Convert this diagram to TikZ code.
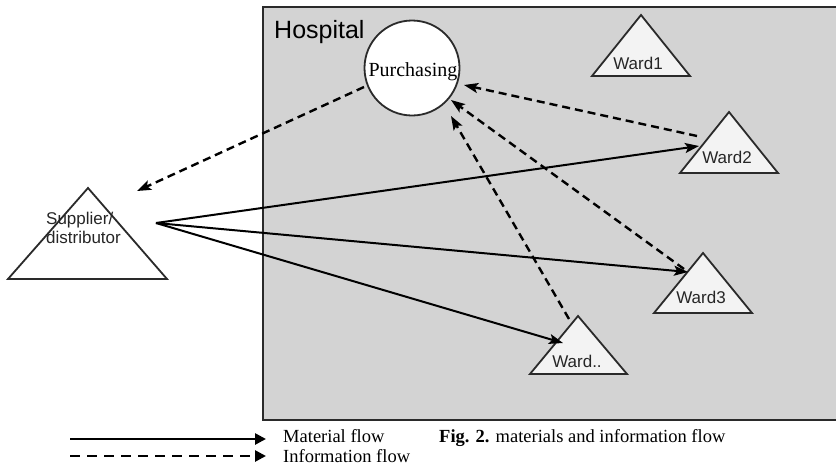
\documentclass[tikz,border=0pt]{standalone}
\usepackage{fontspec}
\setmainfont{Liberation Serif}
\newfontfamily\arialf{Liberation Sans}
\usetikzlibrary{arrows.meta}
\definecolor{hospgray}{HTML}{D3D3D3}
\definecolor{wardfill}{HTML}{F3F3F3}
\definecolor{edgegray}{HTML}{2A2A2A}
\tikzset{
  tri/.style={draw=edgegray, line width=1.8pt, line join=miter},
  lbl/.style={font=\arialf\fontsize{17}{19}\selectfont, inner sep=0pt, text=black!85},
  matflow/.style={line width=2pt, -{Stealth[length=14pt,width=10pt,inset=3pt]}},
  infoflow/.style={line width=2.4pt, dash pattern=on 8pt off 5pt, -{Stealth[length=14pt,width=10pt,inset=3pt]}},
  legtext/.style={font=\fontsize{18.5}{20}\selectfont, inner sep=0pt, anchor=base west},
}
\begin{document}
\begin{tikzpicture}[x=1pt,y=-1pt]
\useasboundingbox (0,0) rectangle (836,472);
% hospital area
\draw[fill=hospgray, draw=edgegray, line width=2pt] (263,7) rectangle (850,420);
\node[font=\arialf\fontsize{25}{27}\selectfont, inner sep=0pt, anchor=base west] (hosp) at (274,38) {Hospital};
% supplier
\draw[tri, fill=white] (8,279) -- (88,188) -- (167,279) -- cycle;
\node[lbl, align=left, anchor=west] (sup) at (46,228) {Supplier/\\distributor};
% purchasing
\node[circle, draw=edgegray, line width=1.8pt, fill=white, minimum size=95pt, inner sep=0pt] (pur) at (412,68) {};
\node[font=\fontsize{20}{22}\selectfont, inner sep=0pt, anchor=base] (purt) at (413,76) {Purchasing};
% wards
\draw[tri, fill=wardfill] (592,76) -- (641,15) -- (690,76) -- cycle;
\node[lbl] (w1) at (638,63) {Ward1};
\draw[tri, fill=wardfill] (680,173) -- (729,112) -- (778,173) -- cycle;
\node[lbl] (w2) at (727,157) {Ward2};
\draw[tri, fill=wardfill] (654,313) -- (703,253) -- (752,313) -- cycle;
\node[lbl] (w3) at (701,297) {Ward3};
\draw[tri, fill=wardfill] (530,374) -- (578,316) -- (627,374) -- cycle;
\node[lbl] (wd) at (577,361) {Ward..};
% connector end points
\coordinate (src) at (156,223);
\coordinate (w2in) at (699,146);
\coordinate (w3in) at (688,272);
\coordinate (wdin) at (563,343);
\coordinate (supin) at (137,191);
\coordinate (purout) at (364,87);
\coordinate (w2out) at (697,136);
\coordinate (w3out) at (684,269);
\coordinate (wdout) at (569,319);
\coordinate (pin2) at (464,85);
\coordinate (pin3) at (451,100);
\coordinate (pind) at (451,116);
% material flow
\draw[matflow] (src) -- (w2in);
\draw[matflow] (src) -- (w3in);
\draw[matflow] (src) -- (wdin);
% information flow
\draw[infoflow] (purout) -- (supin);
\draw[infoflow] (w2out) -- (pin2);
\draw[infoflow] (w3out) -- (pin3);
\draw[infoflow] (wdout) -- (pind);
% legend
\coordinate (l1a) at (70,439);
\coordinate (l1b) at (266,439);
\coordinate (l2a) at (70,456);
\coordinate (l2b) at (266,456);
\draw[line width=2.6pt, -{Triangle[length=11pt,width=11pt]}] (l1a) -- (l1b);
\draw[line width=2.6pt, dash pattern=on 10pt off 7pt, -{Triangle[length=11pt,width=11pt]}] (l2a) -- (l2b);
\node[legtext] (lm) at (283,442) {Material flow};
\node[legtext] (li) at (283,462) {Information flow};
\node[legtext] (cap) at (439,442) {\textbf{Fig. 2.} materials and information flow};
\end{tikzpicture}
\end{document}
